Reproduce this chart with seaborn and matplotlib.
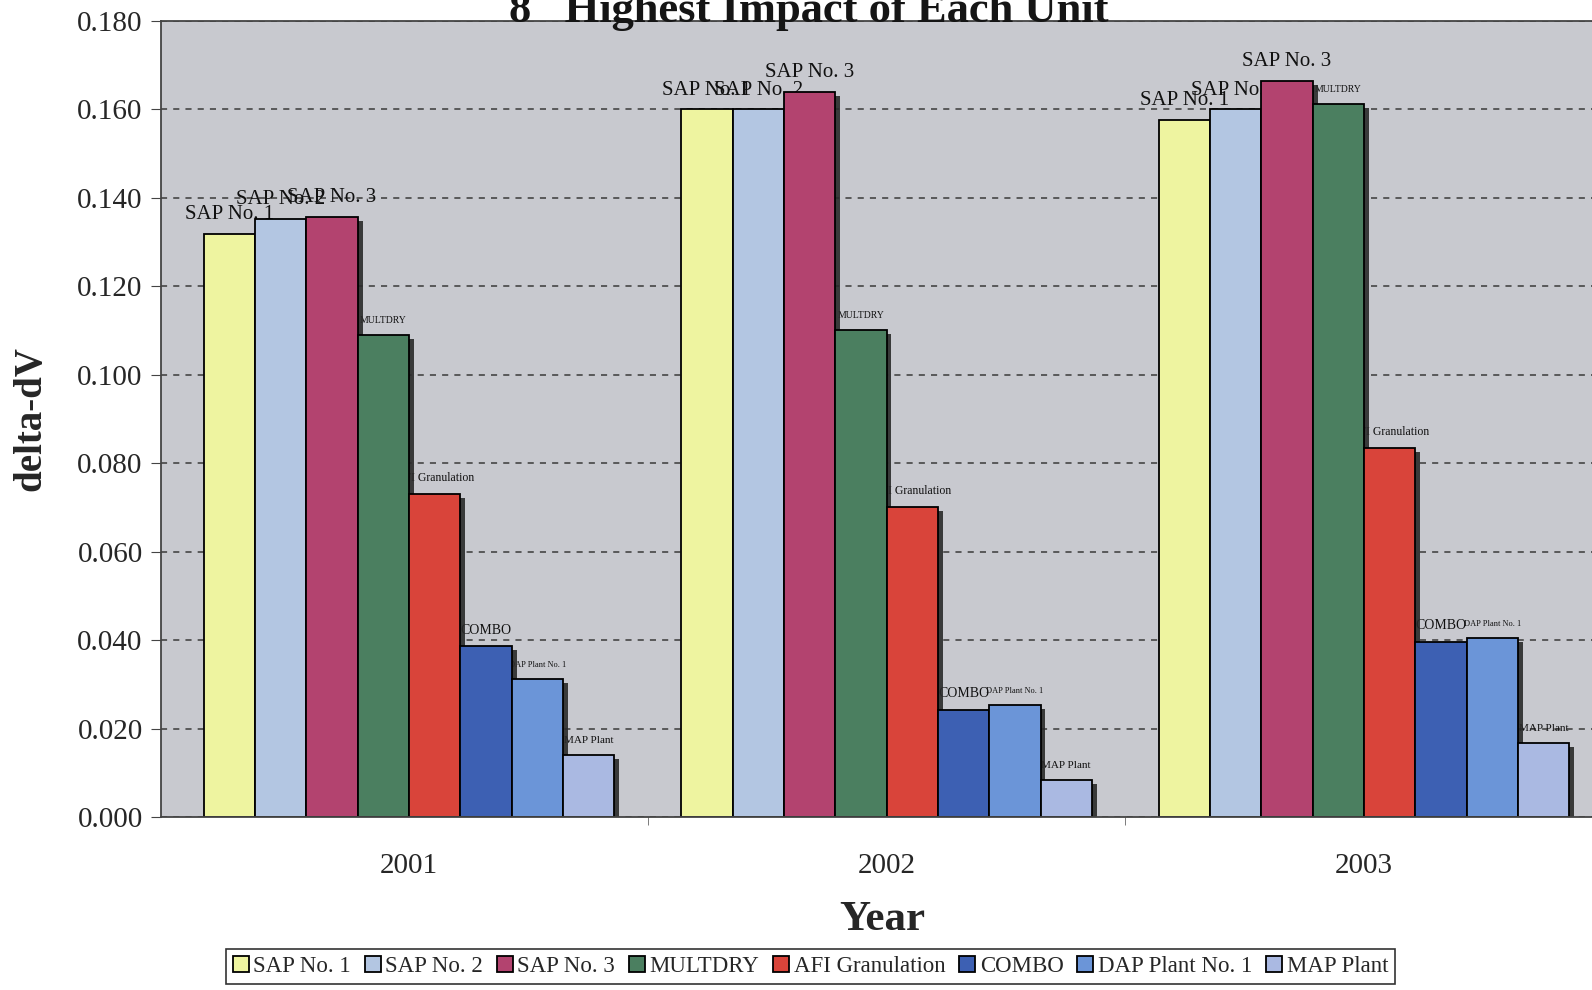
import numpy as np
import pandas as pd
import matplotlib
matplotlib.use("Agg")
import matplotlib.pyplot as plt
import matplotlib.patheffects as pe
import seaborn as sns

# values
years = ["2001", "2002", "2003"]
units = ["SAP No. 1", "SAP No. 2", "SAP No. 3", "MULTDRY", "AFI Granulation",
         "COMBO", "DAP Plant No. 1", "MAP Plant"]
sap1 = [0.1318, 0.1600, 0.1576]
sap2 = [0.1353, 0.1600, 0.1600]
sap3 = [0.1357, 0.1640, 0.1665]
multdry = [0.1090, 0.1101, 0.1613]
afi = [0.0730, 0.0702, 0.0835]
combo = [0.0386, 0.0242, 0.0396]
dap1 = [0.0312, 0.0253, 0.0405]
map_plant = [0.0140, 0.0084, 0.0168]

series = [sap1, sap2, sap3, multdry, afi, combo, dap1, map_plant]
rows = []
for u, vals in zip(units, series):
    for y, v in zip(years, vals):
        rows.append({"Year": y, "Unit": u, "delta": v})
df = pd.DataFrame(rows)

colors = ["#eef4a0", "#b3c6e2", "#b3436f", "#4b7f60", "#d9443a",
          "#3d60b3", "#6b95d8", "#aab9e2"]
label_sizes = [15, 15, 15, 7, 8.5, 10, 6, 8]

sns.set_style("white")
plt.rcParams["font.family"] = ["Liberation Serif", "DejaVu Serif"]

fig = plt.figure(figsize=(15.92, 9.9), dpi=100)
ax = fig.add_axes([0.101, 0.1747, 0.9058, 0.8043])
ax.set_facecolor("#c8c9cf")

sns.barplot(data=df, x="Year", y="delta", hue="Unit", hue_order=units,
            palette=colors, saturation=1, width=0.86, edgecolor="black",
            linewidth=1.3, ax=ax)

shadow = [pe.SimplePatchShadow(offset=(3.5, -3), shadow_rgbFace="#2a2a2a", alpha=0.9),
          pe.Normal()]
for p in ax.patches:
    p.set_path_effects(shadow)

# series names over the bars, drawn behind neighbouring bars like in the scan
for cont, name, fs in zip(ax.containers, units, label_sizes):
    ax.bar_label(cont, labels=[name] * len(years), padding=7, fontsize=fs,
                 color="#111111", zorder=0.9)

ax.set_ylim(0, 0.18)
ax.set_xlim(-0.52, 2.5)
ax.set_yticks(np.arange(0, 0.181, 0.02))
ax.yaxis.set_major_formatter(matplotlib.ticker.FormatStrFormatter("%.3f"))
ax.set_axisbelow(True)
ax.yaxis.grid(True, color="#3a3a3a", linestyle=(0, (4, 4)), linewidth=1.1)
ax.tick_params(axis="y", labelsize=21, length=7, direction="out", color="#444444",
               left=True, pad=6)
ax.tick_params(axis="x", labelsize=21, length=0, pad=26)
ax.set_xticks([0.5, 1.5], minor=True)
ax.tick_params(axis="x", which="minor", length=6, color="#666666", bottom=True)

for s in ["left", "bottom", "top"]:
    ax.spines[s].set_color("#444444")
    ax.spines[s].set_linewidth(1.3)
ax.spines["right"].set_visible(False)

ax.set_xlabel("Year", fontsize=31, fontweight="bold", labelpad=16)
ax.set_ylabel("delta-dV", fontsize=28, fontweight="bold", labelpad=20)

fig.text(0.508, 1 - 22 / 990, "8   Highest Impact of Each Unit", ha="center",
         va="baseline", fontsize=32, fontweight="bold", color="#151515")

sns.move_legend(ax, "center", bbox_to_anchor=(0.509, 0.024),
                bbox_transform=fig.transFigure, ncol=8, title=None, frameon=True,
                fontsize=16.5, handlelength=0.7, handleheight=0.7, handletextpad=0.2,
                columnspacing=0.6, borderpad=0.3, fancybox=False,
                edgecolor="black")
leg = ax.get_legend()
leg.get_frame().set_linewidth(1.2)
for h in leg.legend_handles:
    h.set_path_effects([])
    h.set_edgecolor("black")

fig.savefig("out.png", dpi=100)
